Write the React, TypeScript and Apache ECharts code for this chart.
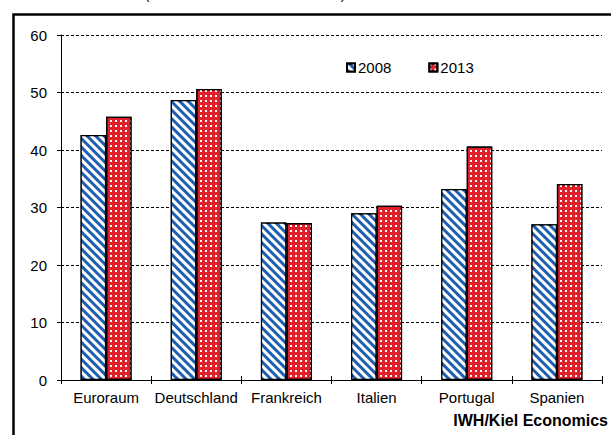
import React, { useEffect, useRef } from "react";
import * as echarts from "echarts";

const categories = ["Euroraum", "Deutschland", "Frankreich", "Italien", "Portugal", "Spanien"];
const values2008 = [42.6, 48.7, 27.4, 29.0, 33.2, 27.1];
const values2013 = [45.8, 50.6, 27.3, 30.3, 40.6, 34.1];
const seriesNames = ["2008", "2013"];
const yTicks = { min: 0, max: 60, interval: 10 };
const sourceText = "IWH/Kiel Economics";
const titleText = "(in Relation zum nominalen BIP)";

const FONT = "'Liberation Sans', Arial, sans-serif";

export default function App() {
  const ref = useRef<HTMLDivElement>(null);
  useEffect(() => {
    if (!ref.current) return;
    const chart = echarts.init(ref.current, null, { renderer: "svg" });
    chart.setOption({
      animation: false,
      aria: { enabled: true, decal: { show: true } },
      textStyle: { fontFamily: FONT },
      grid: { left: 61, right: 9, top: 35, bottom: 55, containLabel: false },
      legend: {
        data: seriesNames,
        left: 341,
        top: 55,
        icon: "rect",
        itemWidth: 8,
        itemHeight: 8,
        itemGap: 37,
        textStyle: { fontSize: 15, color: "#000", fontFamily: FONT, padding: [0, 0, 0, -2] },
      },
      xAxis: [
        {
          type: "category",
          data: categories,
          axisLine: { show: true, lineStyle: { color: "#000", width: 1 } },
          axisTick: { show: true, length: 4, lineStyle: { color: "#000" } },
          axisLabel: { color: "#000", fontSize: 15, fontFamily: FONT, margin: 10, interval: 0 },
        },
        {
          type: "category",
          data: categories,
          position: "bottom",
          axisLine: { show: false },
          axisTick: { show: true, inside: true, length: 4, lineStyle: { color: "#000" } },
          axisLabel: { show: false },
        },
      ],
      yAxis: [
        {
          type: "value",
          min: yTicks.min,
          max: yTicks.max,
          interval: yTicks.interval,
          axisLine: { show: true, lineStyle: { color: "#000", width: 1 } },
          axisTick: { show: true, length: 4, lineStyle: { color: "#000" } },
          axisLabel: { color: "#000", fontSize: 15, fontFamily: FONT, margin: 14 },
          splitLine: { show: true, lineStyle: { color: "#000", type: [3, 2], width: 1 } },
        },
        {
          type: "value",
          min: yTicks.min,
          max: yTicks.max,
          interval: yTicks.interval,
          position: "left",
          axisLine: { show: false },
          axisTick: { show: true, inside: true, length: 3, lineStyle: { color: "#000" } },
          axisLabel: { show: false },
          splitLine: { show: false },
        },
      ],
      series: [
        {
          name: seriesNames[0],
          type: "bar",
          data: values2008,
          barWidth: 25.5,
          barGap: "0%",
          itemStyle: {
            color: "#1f5fb0",
            borderColor: "#000",
            borderWidth: 1.2,
            decal: {
              symbol: "rect",
              color: "#ffffff",
              dashArrayX: [1, 0],
              dashArrayY: [2.4, 2.6],
              rotation: Math.PI / 4,
            },
          },
        },
        {
          name: seriesNames[1],
          type: "bar",
          data: values2013,
          barWidth: 25.5,
          barGap: "0%",
          itemStyle: {
            color: "#e0202a",
            borderColor: "#000",
            borderWidth: 1.2,
            decal: {
              symbol: "rect",
              symbolSize: 1,
              color: "#ffffff",
              dashArrayX: [1.4, 3],
              dashArrayY: [1.4, 3],
              rotation: 0,
            },
          },
        },
      ],
      graphic: [
        {
          type: "rect",
          shape: { x: 13.5, y: 14.5, width: 640, height: 460 },
          style: { fill: "none", stroke: "#000", lineWidth: 2.5 },
          silent: true,
        },
        {
          type: "text",
          x: 245,
          y: 1,
          style: {
            text: titleText,
            font: `14px ${FONT}`,
            fill: "#000",
            textAlign: "center",
            textVerticalAlign: "bottom",
          },
          silent: true,
        },
        {
          type: "text",
          x: 608,
          y: 420,
          style: {
            text: sourceText,
            font: `bold 16px ${FONT}`,
            fill: "#000",
            textAlign: "right",
            textVerticalAlign: "middle",
          },
          silent: true,
        },
      ],
    });
    return () => chart.dispose();
  }, []);
  return (
    <div
      ref={ref}
      style={{ position: "fixed", left: 0, top: 0, width: 611, height: 435, background: "#fff" }}
    />
  );
}
